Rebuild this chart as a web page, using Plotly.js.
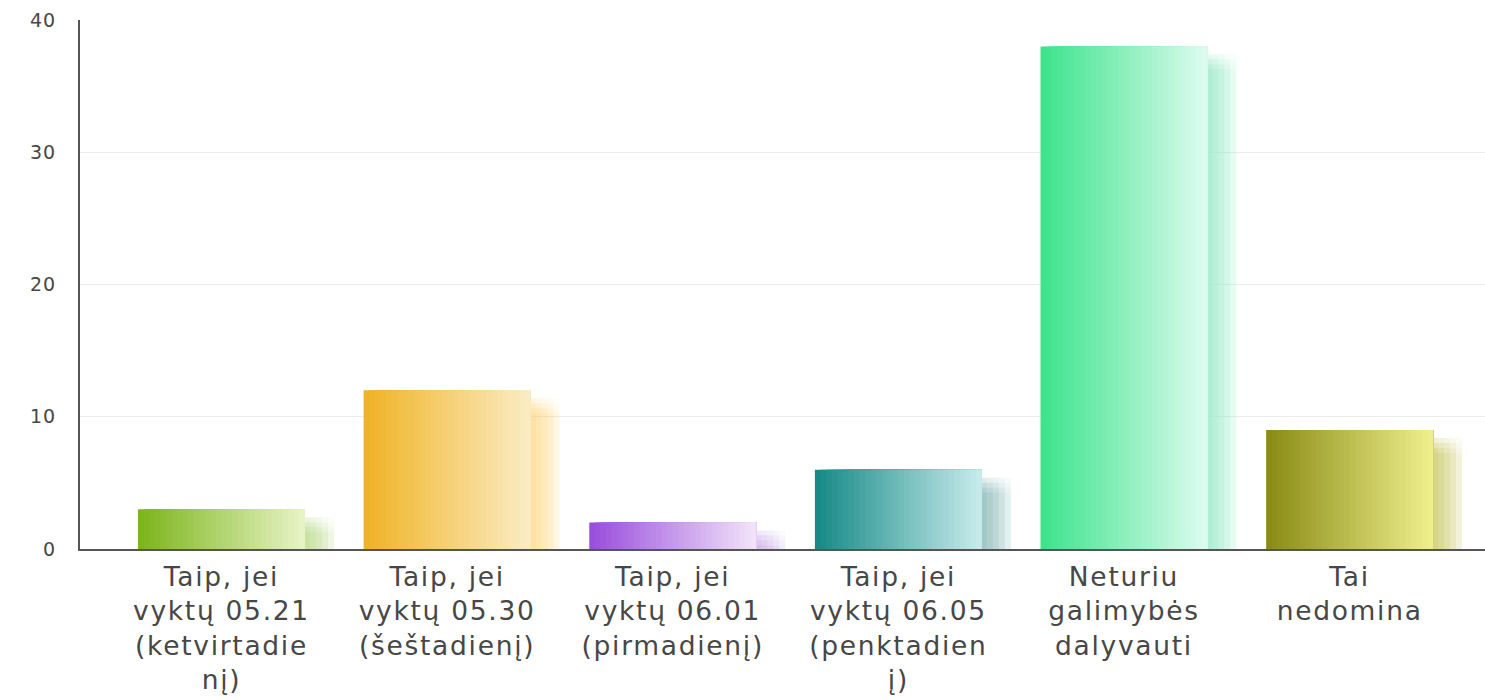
<!DOCTYPE html>
<html>
<head>
<meta charset="utf-8">
<script src="https://cdn.plot.ly/plotly-3.0.1.min.js"></script>
<style>
  html, body { margin: 0; padding: 0; background: #ffffff; }
  #chart { width: 1485px; height: 700px; }
  .xtick text { letter-spacing: 1.7px; }
  .ytick text { letter-spacing: 1px; }
</style>
</head>
<body>
<div id="chart"></div>
<script>
// ---- data ----
const categories = [
  "Taip, jei<br>vyktų 05.21<br>(ketvirtadie<br>nį)",
  "Taip, jei<br>vyktų 05.30<br>(šeštadienį)",
  "Taip, jei<br>vyktų 06.01<br>(pirmadienį)",
  "Taip, jei<br>vyktų 06.05<br>(penktadien<br>į)",
  "Neturiu<br>galimybės<br>dalyvauti",
  "Tai<br>nedomina"
];
const values = [3, 12, 2, 6, 38, 9];
const yTickValues = [0, 10, 20, 30, 40];
const yTickLabels = ["0", "10", "20", "30", "40"];

// ---- styles ----
const startColors = ["#7cb51c", "#f0b327", "#9a4fdc", "#178a87", "#3ee38c", "#8a8c16"];
const endColors   = ["#e6f3c4", "#faecc2", "#f1e2f9", "#c6eaea", "#dbfbee", "#eeee8c"];

function hexToRgb(h) {
  return [parseInt(h.substr(1,2),16), parseInt(h.substr(3,2),16), parseInt(h.substr(5,2),16)];
}
function mix(a, b, t) {
  const A = hexToRgb(a), B = hexToRgb(b);
  const c = A.map((v, i) => Math.round(v + (B[i] - v) * t));
  return "rgb(" + c.join(",") + ")";
}

const pxPerUnitX = 225.6;
const pxPerUnitY = 13.2;
const barW = 0.74;
const slices = 30;

const traces = [];

// soft shadow: grid of faint offset copies imitating a blur
const shadowDrops = [8, 13, 18, 23];
const shadowShifts = [5, 11, 17, 23, 29];
shadowDrops.forEach(function (d) {
  shadowShifts.forEach(function (s) {
    traces.push({
      type: "bar",
      x: categories,
      y: values,
      base: -d / pxPerUnitY,
      width: barW,
      offset: -barW / 2 + s / pxPerUnitX,
      marker: {
        color: startColors.map((c, i) => mix(c, endColors[i], 0.55)),
        opacity: 0.055,
        line: { width: 0 }
      },
      hoverinfo: "skip",
      showlegend: false
    });
  });
});

// gradient bars: layered slices, each covering from its start to the bar's right edge
for (let k = 0; k < slices; k++) {
  const t = k / (slices - 1);
  traces.push({
    type: "bar",
    x: categories,
    y: values,
    width: barW - k * barW / slices,
    offset: -barW / 2 + k * barW / slices,
    marker: {
      color: startColors.map((c, i) => mix(c, endColors[i], t)),
      line: { width: 0 }
    },
    hoverinfo: "skip",
    showlegend: false
  });
}

const layout = {
  width: 1485,
  height: 700,
  margin: { l: 80, r: 0, t: 20, b: 151 },
  paper_bgcolor: "#ffffff",
  plot_bgcolor: "#ffffff",
  barmode: "overlay",
  showlegend: false,
  hovermode: false,
  font: { family: "DejaVu Sans, Verdana, sans-serif", color: "#444444" },
  xaxis: {
    type: "category",
    range: [-0.627, 5.6],
    showgrid: false,
    zeroline: false,
    showline: true,
    linecolor: "#555555",
    linewidth: 2,
    ticks: "",
    ticklabelstandoff: 3,
    tickfont: { family: "DejaVu Sans, Verdana, sans-serif", size: 26.5, color: "#474747" },
    fixedrange: true
  },
  yaxis: {
    range: [0, 40],
    tickvals: yTickValues,
    ticktext: yTickLabels,
    showgrid: true,
    gridcolor: "#ececec",
    gridwidth: 1,
    zeroline: false,
    showline: true,
    linecolor: "#555555",
    linewidth: 2,
    ticks: "",
    ticklabelstandoff: 18,
    tickfont: { family: "DejaVu Sans, Verdana, sans-serif", size: 19, color: "#474747" },
    fixedrange: true
  }
};

Plotly.newPlot("chart", traces, layout, { displayModeBar: false, staticPlot: true });
</script>
</body>
</html>
